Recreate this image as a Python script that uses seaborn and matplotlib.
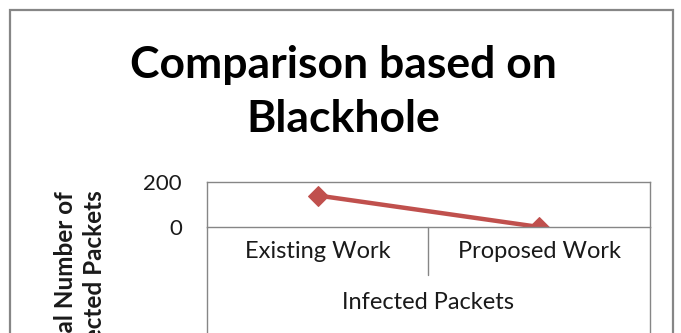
import matplotlib
matplotlib.use('Agg')
import matplotlib.pyplot as plt
import matplotlib.patches as patches
import matplotlib.transforms as mtransforms
import seaborn as sns
import pandas as pd

# data
categories = ['Existing Work', 'Proposed Work']
infected = [140, 0]
group_label = 'Infected Packets'

df = pd.DataFrame({'Work': categories, 'Infected': infected})

sns.set_style('white')
plt.rcParams['font.family'] = ['Lato', 'DejaVu Sans']

W, H = 681, 333
fig = plt.figure(figsize=(W / 100, H / 100), dpi=100)
fig.patch.set_facecolor('white')

GRID = '#868686'
RED = '#C0504D'
TXT = '#1a1a1a'

# outer chart border (cropped at the bottom)
fig.patches.append(patches.Rectangle((10 / W, -0.2), (673 - 10) / W, 1.2 - 10 / H,
                                     transform=fig.transFigure, fill=False,
                                     edgecolor=GRID, lw=1.6))

ax = fig.add_axes([207 / W, 1 - 227 / H, (650 - 207) / W, 45 / H])
sns.lineplot(data=df, x='Work', y='Infected', ax=ax, color=RED, lw=3.2,
             marker='D', markersize=10, markeredgecolor=RED, sort=False)
ax.set_xlim(-0.5, 1.5)
ax.set_ylim(0, 200)
ax.set_yticks([0, 200])
for s in ax.spines.values():
    s.set_edgecolor(GRID)
    s.set_linewidth(1.0)
ax.tick_params(axis='y', length=0, pad=18, labelsize=16, labelcolor=TXT)
ax.tick_params(axis='x', length=0, pad=10, labelsize=17, labelcolor=TXT)
ax.set_xlabel(group_label, fontsize=17, color=TXT, labelpad=22)
ax.set_ylabel('')

# category axis frame lines below the plot
trans = mtransforms.blended_transform_factory(ax.transData, ax.transAxes)
ax.plot([0.5, 0.5], [0, -48 / 45], transform=trans, color=GRID, lw=1.0, clip_on=False)
ax.plot([0, 0], [0, -3], transform=ax.transAxes, color=GRID, lw=1.0, clip_on=False)
ax.plot([1, 1], [0, -3], transform=ax.transAxes, color=GRID, lw=1.0, clip_on=False)

fig.text(343 / W, 1 - 92 / H, 'Comparison based on\nBlackhole', ha='center', va='center',
         fontsize=32, fontweight='bold', color='black', linespacing=1.4)

# y-axis title, cropped at the bottom edge like the reference
fig.text(80 / W, 1 - 190 / H, 'Total Number of\nInfected Packets', ha='center', va='top',
         rotation=90, fontsize=17.5, fontweight='bold', color=TXT,
         multialignment='center', linespacing=1.35)

fig.savefig('out.png', dpi=100)
